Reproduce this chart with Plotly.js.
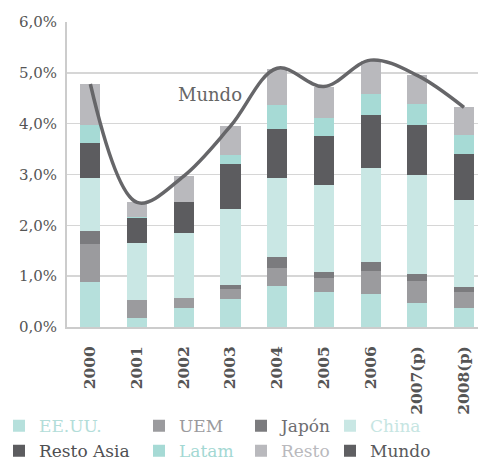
<!DOCTYPE html>
<html>
<head>
<meta charset="utf-8">
<script src="https://cdn.plot.ly/plotly-3.0.1.min.js"></script>
<style>html,body{margin:0;padding:0;background:#fff;}#chart{width:478px;height:461px;}</style>
</head>
<body>
<div id="chart"></div>
<script>
var years = ["2000", "2001", "2002", "2003", "2004", "2005", "2006", "2007(p)", "2008(p)"];
var eeuu      = [0.88, 0.17, 0.37, 0.56, 0.81, 0.68, 0.64, 0.47, 0.37];
var uem       = [0.75, 0.37, 0.20, 0.18, 0.35, 0.28, 0.47, 0.43, 0.31];
var japon     = [0.26, 0.00, 0.00, 0.09, 0.21, 0.13, 0.16, 0.14, 0.10];
var china     = [1.04, 1.12, 1.28, 1.50, 1.57, 1.71, 1.85, 1.95, 1.71];
var restoAsia = [0.69, 0.48, 0.61, 0.87, 0.96, 0.96, 1.06, 0.98, 0.91];
var latam     = [0.35, 0.02, 0.00, 0.18, 0.47, 0.36, 0.41, 0.41, 0.37];
var resto     = [0.81, 0.30, 0.52, 0.57, 0.71, 0.61, 0.65, 0.57, 0.55];
var mundo     = [4.78, 2.45, 2.97, 3.95, 5.09, 4.73, 5.25, 4.95, 4.32];

function bar(name, vals, color, textColor, legend) {
  return {
    type: "bar", x: years, y: vals, name: '<span style="color:' + textColor + '">' + name + '</span>',
    marker: {color: color, line: {width: 0}}, legend: legend, hoverinfo: "y"
  };
}

var traces = [
  bar("EE.UU.", eeuu, "#b6e0dc", "#b3ddd9", "legend"),
  bar("UEM", uem, "#9b9b9e", "#9a9a9d", "legend2"),
  bar("Japón", japon, "#7b7b7e", "#6e6e71", "legend3"),
  bar("China", china, "#c9e7e4", "#c6e5e2", "legend4"),
  bar("Resto Asia", restoAsia, "#5c5c5f", "#4f4f52", "legend"),
  bar("Latam", latam, "#a6dad5", "#a3d8d3", "legend2"),
  bar("Resto", resto, "#b9b9bd", "#b9b9bd", "legend3"),
  {
    type: "bar", x: years, y: years.map(function(){ return null; }),
    name: '<span style="color:#59595c">Mundo</span>', legend: "legend4",
    marker: {color: "#5f5f62"}, hoverinfo: "skip"
  },
  {
    type: "scatter", mode: "lines", x: years, y: mundo, name: "Mundo", showlegend: false,
    line: {color: "#666669", width: 3.5, shape: "spline", smoothing: 1}
  }
];

var legFont = {family: "DejaVu Serif, serif", size: 17, color: "#555"};
function leg(px) {
  return {
    x: (px - 67) / 411, xanchor: "left", y: -0.266, yanchor: "top",
    orientation: "v", traceorder: "normal", font: legFont, bgcolor: "rgba(0,0,0,0)",
    itemclick: false, itemdoubleclick: false, tracegroupgap: 0
  };
}

var layout = {
  width: 478, height: 461,
  margin: {l: 67, r: 0, t: 22, b: 134, pad: 0, autoexpand: false},
  paper_bgcolor: "#fff", plot_bgcolor: "#fff",
  separators: ",.",
  barmode: "stack", bargap: 0.57,
  showlegend: true,
  font: {family: "DejaVu Serif, serif", color: "#555"},
  xaxis: {
    type: "category", range: [-0.5, 8.3], tickangle: -90,
    tickfont: {family: "DejaVu Serif, serif", size: 15.5, color: "#555", weight: "bold"},
    showgrid: false, showline: true, linecolor: "#cccccc", linewidth: 2,
    ticks: "", ticklabelstandoff: 11, fixedrange: true
  },
  yaxis: {
    range: [0, 6], dtick: 1, tick0: 0, tickformat: ".1f", ticksuffix: "%",
    tickfont: {family: "DejaVu Serif, serif", size: 15, color: "#555"},
    showgrid: true, gridcolor: "#d6d6d6", gridwidth: 1.5,
    showline: true, linecolor: "#cccccc", linewidth: 2,
    zeroline: false, ticks: "", ticklabelstandoff: 5, fixedrange: true
  },
  legend: leg(-1),
  legend2: leg(139),
  legend3: leg(241),
  legend4: leg(330),
  annotations: [{
    x: 2.56, y: 4.57, xref: "x", yref: "y", text: "Mundo", showarrow: false,
    font: {family: "DejaVu Serif, serif", size: 18, color: "#666"}
  }]
};

Plotly.newPlot("chart", traces, layout, {displayModeBar: false, staticPlot: true});
</script>
</body>
</html>
